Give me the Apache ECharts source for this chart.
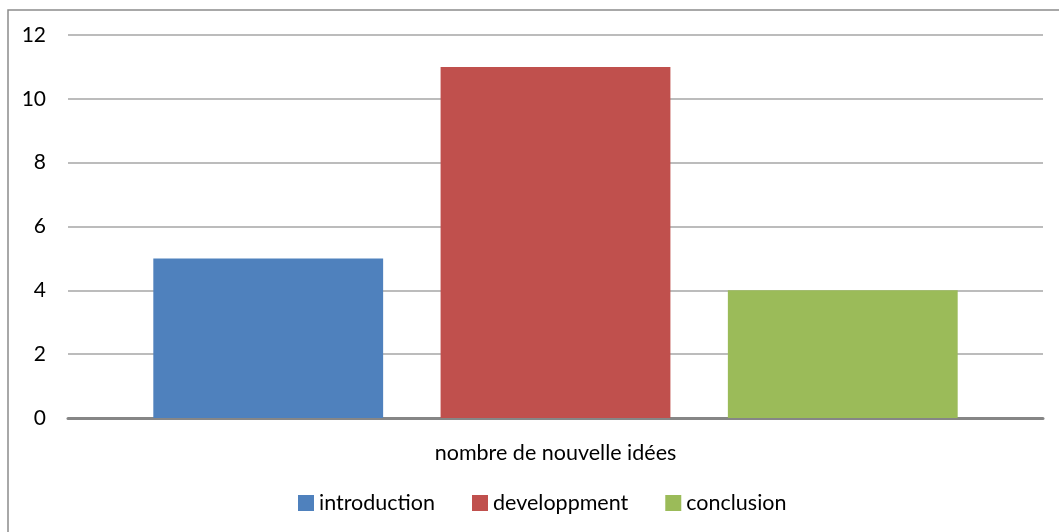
<!DOCTYPE html>
<html>
<head>
<meta charset="utf-8">
<script src="https://cdn.jsdelivr.net/npm/echarts@6/dist/echarts.min.js"></script>
<style>
html,body{margin:0;padding:0;background:#fff;}
#chart{width:1059px;height:532px;}
</style>
</head>
<body>
<div id="chart"></div>
<script>
var categories = ['nombre de nouvelle idées'];
var seriesNames = ['introduction', 'developpment', 'conclusion'];
var introduction = [5];
var developpment = [11];
var conclusion = [4];
var yTicks = [0, 2, 4, 6, 8, 10, 12];
var colors = ['#4F81BD', '#C0504D', '#9BBB59'];
var font = 'Lato';

var chart = echarts.init(document.getElementById('chart'));
var dataSets = [introduction, developpment, conclusion];
chart.setOption({
  animation: false,
  textStyle: {fontFamily: font},
  graphic: [{
    type: 'rect',
    shape: {x: 8, y: 10, width: 1200, height: 700},
    style: {fill: 'none', stroke: '#8c8c8c', lineWidth: 1.5},
    silent: true
  }],
  grid: {left: 68, right: 16, top: 35, bottom: 114, containLabel: false},
  legend: {
    left: 298,
    top: 492,
    padding: 0,
    itemWidth: 16,
    itemHeight: 16,
    itemGap: 37,
    icon: 'rect',
    textStyle: {fontFamily: font, fontSize: 21.5, color: '#000'},
    data: seriesNames
  },
  xAxis: {
    type: 'category',
    data: categories,
    axisTick: {show: false},
    axisLine: {lineStyle: {color: '#868686', width: 3}},
    axisLabel: {fontFamily: font, fontSize: 21.5, color: '#000', margin: 24}
  },
  yAxis: {
    type: 'value',
    min: yTicks[0],
    max: yTicks[yTicks.length - 1],
    interval: 2,
    axisLine: {show: false},
    axisTick: {show: false},
    axisLabel: {fontFamily: font, fontSize: 21, color: '#000', margin: 22},
    splitLine: {lineStyle: {color: '#a6a6a6', width: 1.5}}
  },
  series: seriesNames.map(function (n, i) {
    return {
      name: n,
      type: 'bar',
      data: dataSets[i],
      barCategoryGap: '17.5%',
      barGap: '25%',
      itemStyle: {color: colors[i]}
    };
  })
});
</script>
</body>
</html>
